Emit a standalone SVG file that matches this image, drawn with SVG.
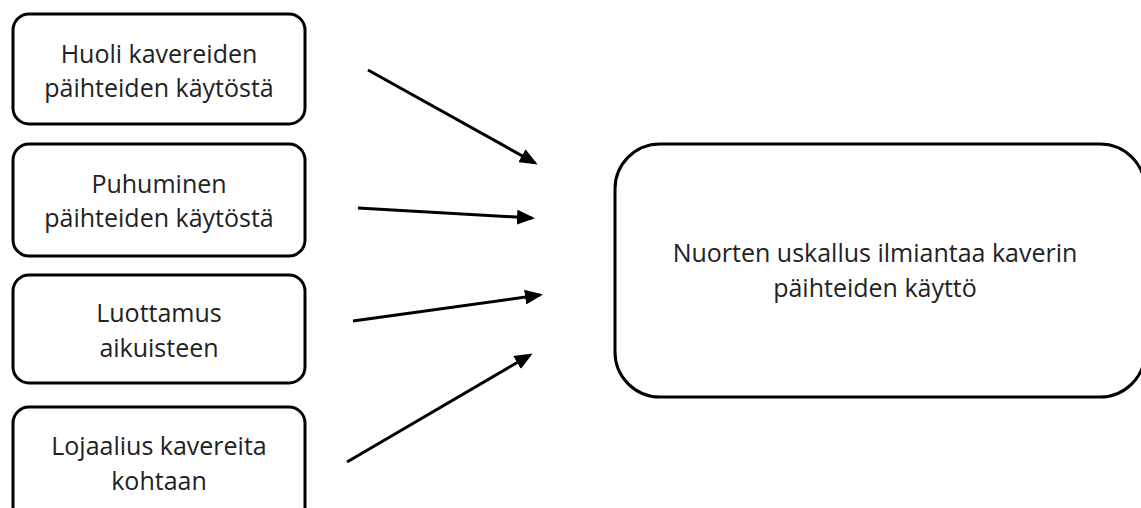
<svg xmlns="http://www.w3.org/2000/svg" width="1141" height="508" viewBox="0 0 1141 508">
<style>
.box{fill:#fff;stroke:#000;stroke-width:3}
.t{font-family:"Open Sans","Liberation Sans",sans-serif;font-size:25px;fill:#222;text-anchor:middle}
.c{stroke:#000;stroke-width:3;fill:none;marker-end:url(#ah)}
</style>
<defs>
<marker id="ah" markerWidth="6" markerHeight="5" refX="5" refY="2.5" orient="auto" markerUnits="strokeWidth">
<path d="M0,0 L6,2.5 L0,5 Z" fill="#000"/>
</marker>
</defs>
<rect width="1141" height="508" fill="#fff"/>
<g id="n1"><rect class="box" x="13" y="14" width="292" height="110" rx="16"/>
<text class="t" x="159" y="63">Huoli kavereiden</text><text class="t" x="159" y="97">päihteiden käytöstä</text></g>
<g id="n2"><rect class="box" x="13" y="144" width="292" height="112" rx="16"/>
<text class="t" x="159" y="193">Puhuminen</text><text class="t" x="159" y="227">päihteiden käytöstä</text></g>
<g id="n3"><rect class="box" x="13" y="275" width="292" height="108" rx="16"/>
<text class="t" x="159" y="322">Luottamus</text><text class="t" x="159" y="357">aikuisteen</text></g>
<g id="n4"><rect class="box" x="13" y="407" width="292" height="120" rx="16"/>
<text class="t" x="159" y="455">Lojaalius kavereita</text><text class="t" x="159" y="490">kohtaan</text></g>
<g id="n5"><rect class="box" x="615" y="144" width="530" height="253" rx="45"/>
<text class="t" x="875" y="262">Nuorten uskallus ilmiantaa kaverin</text><text class="t" x="875" y="297">päihteiden käyttö</text></g>
<g id="connectors">
<line class="c" x1="368" y1="70" x2="535" y2="163"/>
<line class="c" x1="358" y1="208" x2="532" y2="218"/>
<line class="c" x1="353" y1="321" x2="540" y2="295"/>
<line class="c" x1="347" y1="462" x2="530" y2="355"/>
</g>
</svg>
